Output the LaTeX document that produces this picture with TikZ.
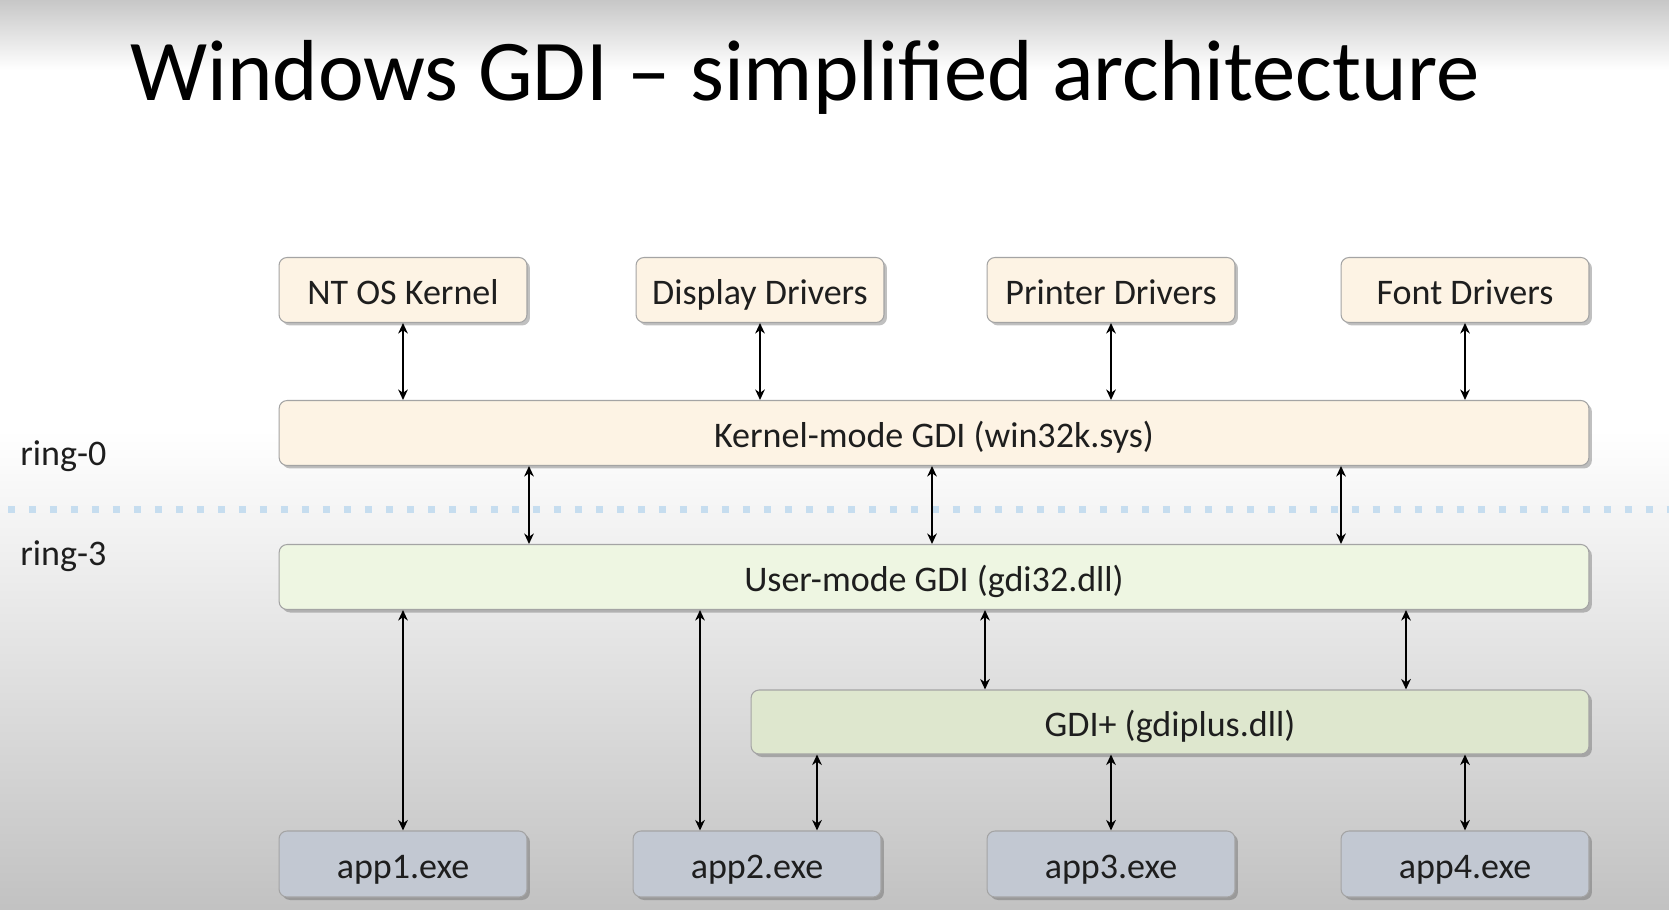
\documentclass[tikz,border=0pt]{standalone}
\usepackage{fontspec}
\setmainfont{Carlito}
\usetikzlibrary{arrows.meta}
\usetikzlibrary{shadows}
\usetikzlibrary{calc}
\definecolor{peach}{HTML}{FDF3E4}
\definecolor{mint}{HTML}{EEF6E2}
\definecolor{sage}{HTML}{DEE7CE}
\definecolor{slate}{HTML}{C2C8D2}
\definecolor{rimgray}{HTML}{A4A4A4}
\definecolor{ringblue}{HTML}{C6DDEF}
\definecolor{inkgray}{HTML}{1E1E1E}
\tikzset{basic box/.style={draw=rimgray,
                           rounded corners=0.16cm,
                           line width=0.6pt,
                           drop shadow={shadow xshift=0.06cm,shadow yshift=-0.06cm,opacity=0.35,fill=black!70},
                           font=\fontsize{20.5}{24}\selectfont,
                           text=inkgray,
                           text height=20pt,
                           text depth=3.6pt,
                           inner sep=0pt}}
\tikzset{link/.style={draw,
                      line width=1.1pt,
                      {Stealth[length=6pt,width=5.5pt]}-{Stealth[length=6pt,width=5.5pt]}}}

\begin{document}
\begin{tikzpicture}
      [
      x=0.02cm,y=-0.02cm,
      top box/.style={basic box,fill=peach,minimum width=4.96cm,minimum height=1.3cm},
      app box/.style={basic box,fill=slate,minimum width=4.96cm,minimum height=1.32cm},
      ring label/.style={anchor=west,inner sep=0pt,font=\fontsize{20.5}{24}\selectfont,text=inkgray},
      ]

      % background
      \useasboundingbox (0,0) rectangle (1669,909);
      \fill[white] (0,0) rectangle (1669,909);
      \shade[top color=black!22,bottom color=white] (0,0) rectangle (1669,70);
      \shade[top color=white,bottom color=black!24] (0,430) rectangle (1669,909);

      % title
      \node[anchor=base west,inner sep=0pt,font=\fontsize{49.3}{60}\selectfont] (title) at (130,101)
      {Windows GDI -- simplified architecture};

      % ring border
      \draw[ringblue,line width=0.14cm,dash pattern=on 0.14cm off 0.28cm] (8,509) -- (1669,509);
      \node[ring label] (ring0) at (20,456) {ring-0};
      \node[ring label] (ring3) at (20,556) {ring-3};

      % drivers
      \foreach \n/\x/\t in
      {
      nt/403/NT OS Kernel,
      disp/760/Display Drivers,
      prn/1111/Printer Drivers,
      fnt/1465/Font Drivers
      }
      {
      \node[top box] (\n) at (\x,290) {\t};
      }

      % layers
      \node[basic box,fill=peach,minimum width=26.2cm,minimum height=1.3cm] (kern) at (934,433)
      {Kernel-mode GDI (win32k.sys)};
      \node[basic box,fill=mint,minimum width=26.2cm,minimum height=1.3cm] (user) at (934,577)
      {User-mode GDI (gdi32.dll)};
      \node[basic box,fill=sage,minimum width=16.76cm,minimum height=1.28cm] (plus) at (1170,722)
      {GDI+ (gdiplus.dll)};

      % applications
      \foreach \i/\x in {1/403,2/757,3/1111,4/1465}
      {
      \node[app box] (app\i) at (\x,864) {app\i.exe};
      }

      % edges
      \foreach \n in {nt,disp,prn,fnt}
      \draw[link] (\n.south) -- (\n.south |- kern.north);

      \foreach \x in {529,932,1341}
      \draw[link] (kern.south -| \x,0) -- (user.north -| \x,0);

      \draw[link] (user.south -| app1) -- (app1.north);
      \draw[link] (user.south -| 700,0) -- (app2.north -| 700,0);

      \foreach \x in {985,1406}
      \draw[link] (user.south -| \x,0) -- (plus.north -| \x,0);

      \draw[link] (plus.south -| 817,0) -- (app2.north -| 817,0);
      \draw[link] (plus.south -| app3) -- (app3.north);
      \draw[link] (plus.south -| app4) -- (app4.north);

    \end{tikzpicture}
\end{document}
